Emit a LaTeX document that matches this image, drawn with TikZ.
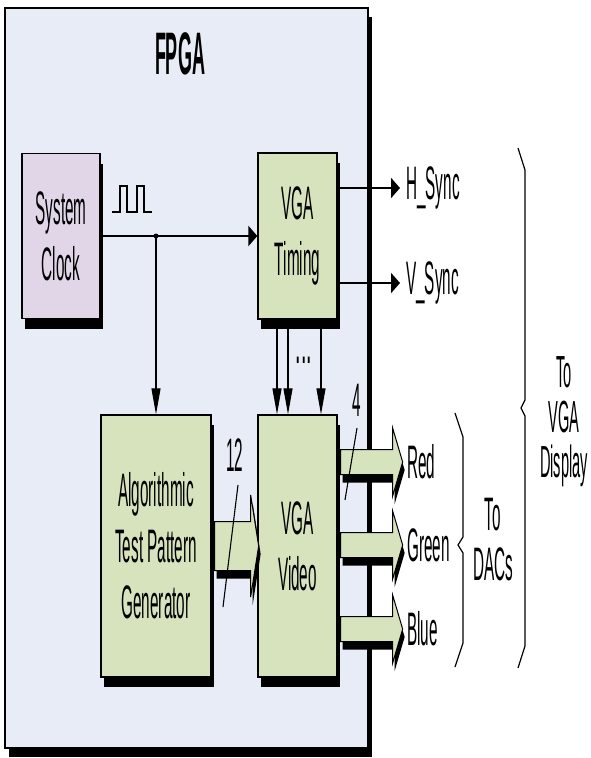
\documentclass[tikz,border=0pt]{standalone}
\usepackage{fontspec}
\newfontfamily\narrowsf[FakeStretch=0.325]{Liberation Sans}
\newfontfamily\titlesf[FakeStretch=0.3]{Liberation Sans}
\usetikzlibrary{positioning,arrows.meta,calc,shadows}
\definecolor{fpgafill}{HTML}{E8ECF6}
\definecolor{clockfill}{HTML}{E0D6E8}
\definecolor{boxgreen}{HTML}{D6E3BD}
\newcommand\boxfont{\narrowsf\fontsize{47}{56}\selectfont}

\tikzset{
  blk/.style={draw=black,line width=1.3pt,inner sep=0pt,align=center,font=\boxfont,
    drop shadow={shadow xshift=3pt,shadow yshift=-10pt,fill=black,opacity=1}},
  clkblk/.style={blk,fill=clockfill},
  grnblk/.style={blk,fill=boxgreen},
  wire/.style={line width=2.6pt},
  thinwire/.style={line width=1.1pt},
  harrow/.style={-{Triangle[length=9pt,width=20pt]}},
  varrow/.style={-{Triangle[length=26pt,width=9pt]}},
  lbl/.style={font=\boxfont,inner sep=0pt},
  bus/.style={fill=boxgreen,draw=black,line width=1pt},
}

\begin{document}
\begin{tikzpicture}[x=1pt,y=-1pt]
  \useasboundingbox (0,0) rectangle (590,758);
  % FPGA outline
  \node[draw=black,line width=1.8pt,fill=fpgafill,minimum width=363pt,minimum height=740pt,inner sep=0pt,
    drop shadow={shadow xshift=4pt,shadow yshift=-9pt,fill=black,opacity=1}] (fpga) at (186.5,378) {};
  \node[font=\titlesf\bfseries\fontsize{60}{66}\selectfont] (fpgatitle) at (180,54) {FPGA};

  % blocks
  \node[clkblk,minimum width=78pt,minimum height=165pt] (clk) at (61,236) {System\\Clock};
  \node[grnblk,minimum width=79pt,minimum height=166pt] (timing) at (297.5,236) {VGA\\Timing};
  \node[grnblk,minimum width=110pt,minimum height=262pt] (atpg) at (156,546) {Algorithmic\\Test Pattern\\Generator};
  \node[grnblk,minimum width=79pt,minimum height=262pt] (video) at (297.5,546) {VGA\\Video};

  % clock
  \draw[wire,harrow] (clk.east) -- (timing.west);
  \coordinate (tap) at (atpg.north |- clk.east);
  \fill (tap) circle (2.5);
  \draw[thinwire,varrow] (tap) -- (atpg.north);
  \draw[line width=1.5pt] (112,212) -| (120,186) -| (127,212) -| (137,186) -| (144,212) -- (152,212);

  % sync outputs
  \node[lbl,anchor=west,inner xsep=6pt] (hsync) at (400,188) {H\_Sync};
  \node[lbl,anchor=west,inner xsep=6pt] (vsync) at (400,283) {V\_Sync};
  \draw[wire,harrow] (timing.east |- hsync.west) -- (hsync.west);
  \draw[wire,harrow] (timing.east |- vsync.west) -- (vsync.west);

  % timing to video
  \foreach \dx in {-20.5,-9.5,23.5}
    \draw[thinwire,varrow] ([xshift=\dx pt]timing.south) -- ([xshift=\dx pt]video.north);
  \node[lbl,font=\narrowsf\fontsize{60}{60}\selectfont] (dots) at (304,360) {...};

  % 12 bit bus
  \begin{scope}[shift={(atpg.east)}]
    \fill[black,shift={(2,8)}] (3,-24.5) -- (39,-24.5) -- (39,-51) -- (47,0) -- (39,51) -- (39,24.5) -- (3,24.5) -- cycle;
    \draw[bus] (3,-24.5) -- (39,-24.5) -- (39,-51) -- (47,0) -- (39,51) -- (39,24.5) -- (3,24.5) -- cycle;
  \end{scope}
  \draw[thinwire] (238,485) -- (223,607);
  \node[lbl] (w12) at (235,455) {12};

  % colour buses
  \node[lbl,anchor=west,inner xsep=5pt] (red) at (402,462) {Red};
  \node[lbl,anchor=west,inner xsep=5pt] (green) at (402,545) {Green};
  \node[lbl,anchor=west,inner xsep=5pt] (blue) at (402,629) {Blue};
  \foreach \col in {red,green,blue} {
    \begin{scope}[shift={(video.east |- \col.west)}]
      \fill[black,shift={(2,8)}] (3,-12.5) -- (55,-12.5) -- (55,-34) -- (65,0) -- (55,34) -- (55,12.5) -- (3,12.5) -- cycle;
      \draw[bus] (3,-12.5) -- (55,-12.5) -- (55,-34) -- (65,0) -- (55,34) -- (55,12.5) -- (3,12.5) -- cycle;
    \end{scope}
  }
  \draw[thinwire] (357,428) -- (345,500);
  \node[lbl] (w4) at (357,400) {4};

  % braces
  \draw[line width=1.2pt] (455,413) -- (463,437) -- (463,537) -- (458,545) -- (463,553) -- (463,643) -- (455,667);
  \draw[line width=1.2pt] (518,148) -- (525,170) -- (525,400) -- (521,408) -- (525,416) -- (525,646) -- (518,668);
  \node[lbl,align=center,font=\narrowsf\fontsize{47}{50}\selectfont] (dacs) at (493,540) {To\\DACs};
  \node[lbl,align=center,font=\narrowsf\fontsize{45}{45}\selectfont] (display) at (564,422) {To\\VGA\\Display};
\end{tikzpicture}
\end{document}
